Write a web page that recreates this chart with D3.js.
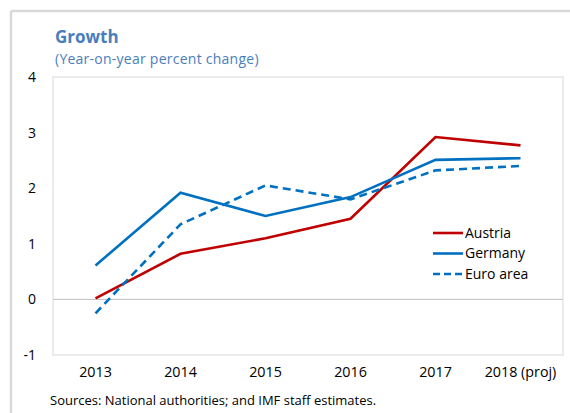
<!DOCTYPE html>
<html><head><meta charset="utf-8">
<script src="https://cdn.jsdelivr.net/npm/d3@7"></script>
<style>body{margin:0;background:#fff;}svg{display:block;font-family:"Open Sans","Noto Sans",sans-serif;}</style>
</head><body>
<svg id="c" width="570" height="413"></svg>
<script>
const years = ["2013","2014","2015","2016","2017","2018 (proj)"];
const austria = [0.02, 0.82, 1.1, 1.45, 2.92, 2.77];
const germany = [0.61, 1.92, 1.5, 1.84, 2.51, 2.54];
const euroArea = [-0.25, 1.35, 2.05, 1.8, 2.32, 2.4];
const yTicks = [-1, 0, 1, 2, 3, 4];

const series = [
  {name:"Austria", values:austria, color:"#C00000", dash:null},
  {name:"Germany", values:germany, color:"#0070C0", dash:null},
  {name:"Euro area", values:euroArea, color:"#0070C0", dash:"8,5"}
];

const svg = d3.select("#c");
const L=53, R=563, T=77, B=355;

// outer frame
svg.append("line").attr("x1",11).attr("x2",570).attr("y1",11).attr("y2",11).attr("stroke","#d9d9d9").attr("stroke-width",2.5);
svg.append("line").attr("x1",11).attr("x2",11).attr("y1",11).attr("y2",413).attr("stroke","#d9d9d9").attr("stroke-width",2.5);

svg.append("text").attr("x",55).attr("y",43).attr("font-size",17).attr("font-weight","bold").attr("fill","#4A7EBB").text("Growth");
svg.append("text").attr("x",55).attr("y",64).attr("font-size",14).attr("letter-spacing",0.25).attr("fill","#4A7EBB").text("(Year-on-year percent change)");

const x = d3.scaleBand().domain(years).range([L,R]);
const y = d3.scaleLinear().domain([-1,4]).range([B,T]);

svg.append("rect").attr("x",L).attr("y",T).attr("width",R-L).attr("height",B-T).attr("fill","none").attr("stroke","#d9d9d9").attr("stroke-width",1);
svg.append("line").attr("x1",L).attr("x2",R).attr("y1",y(0)).attr("y2",y(0)).attr("stroke","#bfbfbf").attr("stroke-width",1);

const yAxis = svg.append("g").attr("transform",`translate(${L-17},0)`)
  .call(d3.axisLeft(y).tickValues(yTicks).tickSize(0).tickPadding(0).tickFormat(d=>String(d)));
yAxis.select(".domain").remove();
yAxis.selectAll("text").attr("font-size",14).attr("fill","#000").attr("font-family","'Open Sans','Noto Sans',sans-serif");

const xAxis = svg.append("g").attr("transform",`translate(0,${B})`)
  .call(d3.axisBottom(x).tickSize(0).tickPadding(12));
xAxis.select(".domain").remove();
xAxis.selectAll("text").attr("font-size",14.3).attr("fill","#000").attr("font-family","'Open Sans','Noto Sans',sans-serif");

const line = d3.line().x((d,i)=>x(years[i])+x.bandwidth()/2).y(d=>y(d));
series.forEach(s=>{
  svg.append("path").datum(s.values).attr("d",line).attr("fill","none")
    .attr("stroke",s.color).attr("stroke-width",2.6).attr("stroke-dasharray",s.dash);
});

// legend
const lg = svg.append("g");
series.forEach((s,i)=>{
  const yy = 233 + i*20.5;
  lg.append("line").attr("x1",433).attr("x2",463).attr("y1",yy).attr("y2",yy)
    .attr("stroke",s.color).attr("stroke-width",2.6).attr("stroke-dasharray",s.dash?"7,4":null);
  lg.append("text").attr("x",465).attr("y",yy).attr("dy","0.35em").attr("font-size",14).attr("fill","#000").text(s.name);
});

svg.append("text").attr("x",50).attr("y",405).attr("font-size",13).attr("fill","#000").text("Sources: National authorities; and IMF staff  estimates.");
</script>
</body></html>
